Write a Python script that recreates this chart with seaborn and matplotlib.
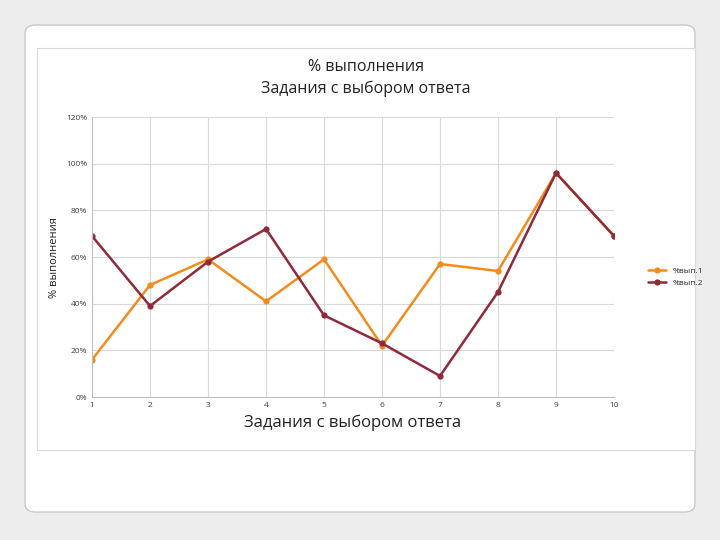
import matplotlib
matplotlib.use('Agg')
import matplotlib.pyplot as plt
import seaborn as sns
import pandas as pd
from matplotlib.patches import FancyBboxPatch, Rectangle
from matplotlib.ticker import PercentFormatter

# Values
tasks = [1, 2, 3, 4, 5, 6, 7, 8, 9, 10]
vyp1 = [16, 48, 59, 41, 59, 22, 57, 54, 96, 69]
vyp2 = [69, 39, 58, 72, 35, 23, 9, 45, 96, 69]
series_names = ['%вып.1', '%вып.2']
colors = ['#F28C1C', '#8E2A3A']

df = pd.DataFrame({'task': tasks * 2,
                   'value': vyp1 + vyp2,
                   'series': [series_names[0]] * 10 + [series_names[1]] * 10})

sns.set_style('white')
plt.rcParams['font.family'] = ['Open Sans', 'DejaVu Sans']

fig = plt.figure(figsize=(7.2, 5.4), dpi=100)
fig.patch.set_facecolor('#EDEDED')
# slide frame and chart area, kept behind the axes
fig.patches.append(FancyBboxPatch((25/720, 1-512/540), 670/720, 487/540,
                                  boxstyle='round,pad=0,rounding_size=0.015',
                                  transform=fig.transFigure, facecolor='white',
                                  edgecolor='#C8C8C8', lw=1, zorder=-2))
fig.patches.append(Rectangle((37/720, 1-450/540), 658/720, 402/540,
                             transform=fig.transFigure, facecolor='white',
                             edgecolor='#D9D9D9', lw=0.8, zorder=-1))

ax = fig.add_axes([92/720, 1-397/540, 522/720, 280/540])
ax.set_facecolor('none')
sns.lineplot(data=df, x='task', y='value', hue='series', palette=colors,
             marker='o', markersize=4.5, markeredgewidth=0, linewidth=1.8, ax=ax)

ax.set_xlim(1, 10)
ax.set_ylim(0, 120)
ax.set_xticks(tasks)
ax.set_yticks(range(0, 121, 20))
ax.yaxis.set_major_formatter(PercentFormatter(decimals=0))
ax.tick_params(labelsize=6, colors='#404040', length=0)
ax.grid(True, color='#D9D9D9', lw=0.8)
for s in ['top', 'right']:
    ax.spines[s].set_visible(False)
for s in ['left', 'bottom']:
    ax.spines[s].set_color('#BFBFBF')

ax.set_xlabel('Задания с выбором ответа', fontsize=12, color='#222222', labelpad=4)
ax.set_ylabel('% выполнения', fontsize=8, color='#222222', labelpad=4)
fig.text(366/720, 1-78/540, '% выполнения\nЗадания с выбором ответа',
         ha='center', va='center', fontsize=11.5, color='#222222', linespacing=1.4)

ax.legend(loc='center left', bbox_to_anchor=(1.05, 0.43), frameon=False,
          fontsize=6, handlelength=2.2)

fig.savefig('out.png', dpi=100, facecolor=fig.get_facecolor())
